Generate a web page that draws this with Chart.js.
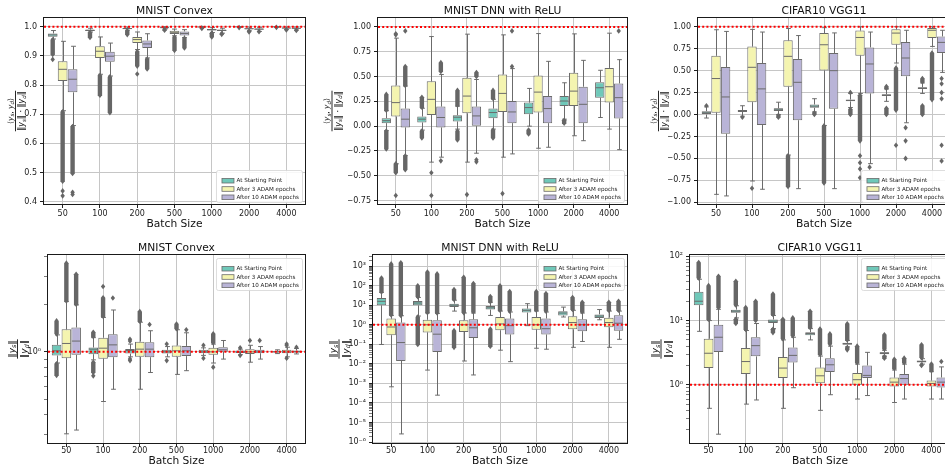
<!DOCTYPE html>
<html><head><meta charset="utf-8">
<script src="https://cdn.jsdelivr.net/npm/chart.js@4/dist/chart.umd.min.js"></script>
<style>
html,body{margin:0;padding:0;width:945px;height:470px;overflow:hidden;background:#fff}
canvas{position:absolute}
</style>
</head><body>
<script>
// ---------------- DATA ----------------
const batchSizes = ['50','100','200','500','1000','2000','4000'];
const seriesLabels = ['At Starting Point','After 3 ADAM epochs','After 10 ADAM epochs'];
// each row: [whiskerLow, q1, median, q3, whiskerHigh]
// outliers: number = single flier, [lo, hi] = dense run of fliers

// MNIST Convex – cosine similarity
const cosConvexStart  = [[0.958,0.966,0.972,0.977,0.987],[0.982,0.985,0.988,0.990,0.995],[0.988,0.991,0.994,0.996,0.999],[0.993,0.995,0.997,0.998,1.0],[0.997,0.998,0.999,0.9995,1.0],[0.998,0.999,0.9995,0.9998,1.0],[0.9985,0.9993,0.9997,0.9999,1.0]];
const cosConvexAdam3  = [[0.712,0.814,0.854,0.882,0.950],[0.837,0.893,0.916,0.933,0.965],[0.922,0.944,0.956,0.965,0.982],[0.969,0.975,0.981,0.986,0.992],[0.980,0.987,0.990,0.992,0.997],[0.986,0.991,0.993,0.995,0.999],[0.991,0.994,0.9955,0.997,0.9995]];
const cosConvexAdam10 = [[0.661,0.775,0.820,0.854,0.933],[0.831,0.880,0.899,0.914,0.944],[0.893,0.927,0.941,0.953,0.976],[0.963,0.970,0.977,0.984,0.990],[0.978,0.985,0.988,0.990,0.995],[0.984,0.990,0.992,0.994,0.998],[0.989,0.993,0.995,0.996,0.999]];
const cosConvexStartOut  = [[[0.905,0.955],0.888],[[0.963,0.980]],[[0.973,0.986]],[[0.988,0.992]],[[0.994,0.996]],[[0.997,0.9975]],[[0.9975,0.998]]];
const cosConvexAdam3Out  = [[[0.47,0.708],0.437,0.42],[[0.765,0.833]],[[0.865,0.915],0.838],[[0.919,0.965]],[[0.965,0.978]],[[0.982,0.985]],[[0.989,0.990]]];
const cosConvexAdam10Out = [[[0.497,0.658],0.432,0.425],[[0.705,0.828]],[[0.855,0.889]],[[0.927,0.960]],[[0.974,0.977]],[[0.983,0.984]],[[0.987,0.988]]];

// MNIST DNN with ReLU – cosine similarity
const cosDnnStart  = [[-0.045,0.03,0.055,0.08,0.155],[-0.04,0.037,0.07,0.097,0.18],[-0.03,0.047,0.09,0.11,0.2],[-0.03,0.08,0.137,0.177,0.27],[0.0,0.12,0.187,0.237,0.38],[0.07,0.203,0.253,0.303,0.437],[0.087,0.287,0.387,0.443,0.563]];
const cosDnnAdam3  = [[-0.38,0.097,0.237,0.41,0.887],[-0.363,0.113,0.27,0.453,0.903],[-0.363,0.13,0.303,0.487,0.927],[-0.313,0.143,0.33,0.52,0.92],[-0.223,0.137,0.343,0.51,0.933],[-0.097,0.203,0.353,0.537,0.93],[-0.03,0.237,0.397,0.587,0.937]];
const cosDnnAdam10 = [[-0.297,-0.013,0.07,0.177,0.403],[-0.313,-0.013,0.087,0.197,0.52],[-0.273,0.0,0.103,0.197,0.47],[-0.28,0.03,0.143,0.253,0.58],[-0.213,0.03,0.177,0.303,0.653],[-0.147,0.03,0.22,0.397,0.663],[-0.237,0.077,0.287,0.43,0.67]];
const cosDnnStartOut  = [[[0.16,0.32],[-0.23,-0.05]],[[0.19,0.29],[-0.12,-0.05]],[[0.21,0.36],[-0.14,-0.05]],[[0.28,0.36],[-0.12,-0.04]],[[-0.08,-0.04]],[[0.03,0.06]],[]];
const cosDnnAdam3Out  = [[0.93,0.92,[-0.47,-0.38],-0.70],[-0.47,-0.70],[-0.69],[-0.68],[],[],[]];
const cosDnnAdam10Out = [[[0.41,0.60],0.96,[-0.44,-0.30]],[[0.55,0.64],-0.35],[[0.50,0.54],-0.34,-0.36],[0.60,0.96],[],[],[0.96]];

// CIFAR10 VGG11 – cosine similarity
const cosCifarStart  = [[-0.04,0.0,0.02,0.038,0.087],[-0.02,0.03,0.04,0.05,0.10],[0.0,0.04,0.06,0.07,0.14],[0.03,0.076,0.095,0.114,0.18],[0.08,0.15,0.16,0.17,0.24],[0.15,0.21,0.22,0.23,0.29],[0.24,0.29,0.30,0.31,0.36]];
const cosCifarAdam3  = [[-0.91,0.02,0.41,0.67,0.966],[-0.758,0.14,0.538,0.776,0.97],[-0.462,0.315,0.663,0.845,0.98],[-0.125,0.503,0.795,0.928,0.99],[0.24,0.67,0.878,0.958,1.0],[0.587,0.795,0.928,0.973,1.0],[0.776,0.872,0.96,0.985,1.0]];
const cosCifarAdam10 = [[-0.928,-0.219,0.2,0.542,0.947],[-0.852,-0.12,0.292,0.587,0.94],[-0.845,-0.065,0.367,0.633,0.90],[-0.845,0.065,0.5,0.70,0.93],[-0.56,0.24,0.576,0.765,0.94],[-0.094,0.435,0.644,0.826,0.96],[0.48,0.70,0.822,0.89,0.96]];
const cosCifarStartOut  = [[0.10],[-0.03],[[-0.03,-0.01]],[[0.0,0.02]],[0.25,[0.0,0.06]],[[0.30,0.32],[0.0,0.07]],[[0.37,0.41],[0.0,0.1]]];
const cosCifarAdam3Out  = [[],[-0.84],[[-0.82,-0.47]],[[-0.78,-0.13]],[[-0.3,0.22],-0.47,-0.55,-0.62,-0.72],[[0.05,0.53],-0.35],[[0.17,0.70]]];
const cosCifarAdam10Out = [[],[],[],[],[-0.6],[-0.15,-0.3,-0.5],[0.41,0.35,0.25,0.18,-0.35,-0.53]];

// MNIST Convex – norm ratio
const ratioConvexStart  = [[0.85,0.948,1.015,1.107,1.28],[0.89,0.966,1.04,1.065,1.23],[0.93,0.975,1.02,1.044,1.12],[0.93,0.975,1.0,1.03,1.08],[0.95,0.98,1.0,1.03,1.06],[0.96,0.985,1.0,1.02,1.04],[0.975,0.99,1.0,1.01,1.03]];
const ratioConvexAdam3  = [[0.303,0.912,1.13,1.39,2.08],[0.485,0.904,1.055,1.23,1.65],[0.58,0.93,1.04,1.16,1.54],[0.72,0.93,1.015,1.096,1.38],[0.85,0.96,1.0,1.06,1.12],[0.86,0.97,1.0,1.04,1.1],[0.93,0.98,1.0,1.03,1.07]];
const ratioConvexAdam10 = [[0.32,0.957,1.17,1.426,1.98],[0.58,0.925,1.107,1.29,1.84],[0.74,0.925,1.04,1.15,1.36],[0.76,0.94,1.015,1.09,1.32],[0.9,1.0,1.03,1.07,1.18],[0.9,0.98,1.0,1.03,1.08],[0.97,0.99,1.0,1.02,1.05]];
const ratioConvexStartOut  = [[[1.30,1.57],[0.71,0.84]],[[1.25,1.33],[0.74,0.86],0.705],[1.2,1.17,0.88,0.90],[1.12,0.88],[1.1,0.91],[1.06,0.95],[]];
const ratioConvexAdam3Out  = [[[2.1,3.64]],[[1.68,2.2],2.59],[[1.56,1.8]],[[1.4,1.5]],[[1.14,1.3],0.80],[1.18],[1.10,1.12,0.91]];
const ratioConvexAdam10Out = [[[2.0,3.1]],[2.19],[1.49],[1.38],[],[1.18],[1.07]];

// MNIST DNN with ReLU – norm ratio
const ratioDnnStart  = [[0.098,9.9,15.8,23.4,45],[2.8,9.9,13,16.3,25],[5,8.1,10,12,18],[3.0,6,7.3,9.1,14],[0.9,4.2,5.5,6.7,12],[2.5,3.0,4.0,4.9,8],[1.8,2.2,2.8,3.4,6]];
const ratioDnnAdam3  = [[6.7e-4,0.29,0.77,2.07,3.0],[0.0048,0.4,1.0,1.83,4.0],[0.014,0.43,1.0,1.7,4.0],[0.05,0.52,1.1,2.5,5.0],[0.063,0.56,1.0,2.5,5.0],[0.07,0.59,1.3,2.7,5.5],[0.07,0.75,1.3,2.3,5.0]];
const ratioDnnAdam10 = [[2.6e-6,0.014,0.123,1.29,2.9],[2.5e-4,0.041,0.33,1.7,3.8],[0.0027,0.21,0.7,1.9,4.0],[0.013,0.32,0.9,2.07,4.5],[0.056,0.32,0.63,2.1,4.5],[0.14,0.47,1.0,1.9,4.0],[0.18,0.5,1.2,3.1,5.0]];
const ratioDnnStartOut  = [[[48,245]],[[27,100],[0.098,2.5]],[[20,63],[0.07,0.5]],[[15,28],[0.08,0.6]],[],[],[]];
const ratioDnnAdam3Out  = [[[3.2,1300]],[[4.2,500]],[[4.2,270]],[[5.5,100]],[[5.5,50]],[[6,25]],[[5.5,14]]];
const ratioDnnAdam10Out = [[[3.0,1500]],[[4.0,400]],[[4.5,130]],[[5,50]],[[5,40]],[[4.5,14]],[[5.5,16]]];

// CIFAR10 VGG11 – norm ratio
const ratioCifarStart  = [[6.8,17.4,20,28,44],[11,13.2,14,14.8,17],[7.5,9.2,9.8,10.4,12],[5.0,5.9,6.3,6.6,7.5],[3.9,4.2,4.37,4.5,4.9],[2.8,3.0,3.13,3.2,3.45],[2.1,2.22,2.31,2.38,2.55]];
const ratioCifarAdam3  = [[0.43,1.82,3.1,5.2,10],[0.5,1.47,2.3,3.74,7],[0.43,1.27,1.82,2.7,5],[0.4,1.06,1.38,1.86,2.8],[0.6,1.0,1.2,1.52,2.1],[0.53,0.94,1.1,1.3,1.7],[0.6,0.94,1.05,1.17,1.6]];
const ratioCifarAdam10 = [[0.17,3.25,5.5,8.6,15],[0.58,2.77,4.07,5.5,9],[0.9,2.23,2.87,3.8,5.5],[0.7,1.58,2.05,2.6,4],[0.68,1.27,1.4,2.0,3.2],[0.6,1.0,1.25,1.47,2.1],[0.6,0.91,1.1,1.3,1.9]];
const ratioCifarStartOut  = [[[46,80]],[[17.5,41],[9,10.5]],[[12.5,26],[6.5,7.3]],[[7.8,14]],[[5,8.9],[3.5,3.8]],[[3.6,6.0],[2.6,2.75]],[[2.65,4.2],[2.0,2.05]]];
const ratioCifarAdam3Out  = [[[10.5,35]],[[7.3,16]],[[5.2,10.5]],[[3,7.4]],[[2.2,4]],[[1.8,2.5]],[[1.65,2.1]]];
const ratioCifarAdam10Out = [[[16,49]],[[10,20]],[[5.8,11]],[[4.3,6.2]],[],[[2.2,2.6]],[2.3]];

// tick labels
const cosConvexTicks = [0.4,0.5,0.6,0.7,0.8,0.9,1.0];
const cosConvexTickLabels = ['0.4','0.5','0.6','0.7','0.8','0.9','1.0'];
const cosDnnTicks = [-0.75,-0.5,-0.25,0,0.25,0.5,0.75,1.0];
const cosDnnTickLabels = ['\u22120.75','\u22120.50','\u22120.25','0.00','0.25','0.50','0.75','1.00'];
const cosCifarTicks = [-1,-0.75,-0.5,-0.25,0,0.25,0.5,0.75,1.0];
const cosCifarTickLabels = ['\u22121.00','\u22120.75','\u22120.50','\u22120.25','0.00','0.25','0.50','0.75','1.00'];
const ratioConvexTicks = [1];
const ratioConvexTickLabels = ['10\u2070'];
const ratioDnnTicks = [1e-6,1e-5,1e-4,1e-3,1e-2,1e-1,1,10,100,1000];
const ratioDnnTickLabels = ['10\u207b\u2076','10\u207b\u2075','10\u207b\u2074','10\u207b\u00b3','10\u207b\u00b2','10\u207b\u00b9','10\u2070','10\u00b9','10\u00b2','10\u00b3'];
const ratioCifarTicks = [1,10,100];
const ratioCifarTickLabels = ['10\u2070','10\u00b9','10\u00b2'];

// ---------------- STYLE ----------------
const COLORS = ['#6fc8b9','#f4f4b0','#b9b4d7'];
const EDGE = '#6b6b6b';
const FLIER = '#666666';
const GRID = '#c6c6c6';
const FONT = '"DejaVu Sans", sans-serif';

const panels = [
  {cx:0,   cy:0,   cw:315, L:44,  R:305, T:18,  B:204, title:'MNIST Convex', lab:'cos', labX:15.5,
   log:false, min:0.392, max:1.03, majors:cosConvexTicks, labels:cosConvexTickLabels,
   series:[cosConvexStart,cosConvexAdam3,cosConvexAdam10], outs:[cosConvexStartOut,cosConvexAdam3Out,cosConvexAdam10Out], legend:'lower', xpad:1, xlabY:20},
  {cx:315, cy:0,   cw:315, L:378, R:627, T:18,  B:204, title:'MNIST DNN with ReLU', lab:'cos', labX:332,
   log:false, min:-0.785, max:1.09, majors:cosDnnTicks, labels:cosDnnTickLabels,
   series:[cosDnnStart,cosDnnAdam3,cosDnnAdam10], outs:[cosDnnStartOut,cosDnnAdam3Out,cosDnnAdam10Out], legend:'lower', xpad:1, xlabY:20},
  {cx:630, cy:0,   cw:330, L:698, R:950, T:18,  B:204, title:'CIFAR10 VGG11', lab:'cos', labX:658.5,
   log:false, min:-1.02, max:1.1, majors:cosCifarTicks, labels:cosCifarTickLabels,
   series:[cosCifarStart,cosCifarAdam3,cosCifarAdam10], outs:[cosCifarStartOut,cosCifarAdam3Out,cosCifarAdam10Out], legend:'lower', xpad:1, xlabY:20},
  {cx:0,   cy:235, cw:315, L:48,  R:305, T:255, B:443, title:'MNIST Convex', lab:'ratio', labX:17.5,
   log:true, min:0.265, max:4.1, majors:ratioConvexTicks, labels:ratioConvexTickLabels,
   series:[ratioConvexStart,ratioConvexAdam3,ratioConvexAdam10], outs:[ratioConvexStartOut,ratioConvexAdam3Out,ratioConvexAdam10Out], legend:'upper', xpad:-1, xlabY:18},
  {cx:315, cy:235, cw:315, L:373, R:627, T:255, B:443, title:'MNIST DNN with ReLU', lab:'ratio', labX:339,
   log:true, min:Math.pow(10,-6.05), max:Math.pow(10,3.57), majors:ratioDnnTicks, labels:ratioDnnTickLabels,
   series:[ratioDnnStart,ratioDnnAdam3,ratioDnnAdam10], outs:[ratioDnnStartOut,ratioDnnAdam3Out,ratioDnnAdam10Out], legend:'upper', xpad:-1, xlabY:18},
  {cx:630, cy:235, cw:330, L:690, R:950, T:255, B:443, title:'CIFAR10 VGG11', lab:'ratio', labX:661,
   log:true, min:0.124, max:105, majors:ratioCifarTicks, labels:ratioCifarTickLabels,
   series:[ratioCifarStart,ratioCifarAdam3,ratioCifarAdam10], outs:[ratioCifarStartOut,ratioCifarAdam3Out,ratioCifarAdam10Out], legend:'upper', xpad:-1, xlabY:18}
];

const YW = 30, XH = 15;

function tickValues(p) {
  if (!p.log) return p.majors.slice();
  const out = [];
  const e0 = Math.floor(Math.log10(p.min)), e1 = Math.ceil(Math.log10(p.max));
  for (let e = e0; e <= e1; e++) {
    for (let k = 1; k < 10; k++) {
      const v = k * Math.pow(10, e);
      if (v >= p.min * 0.9999 && v <= p.max * 1.0001) out.push(v);
    }
  }
  return out;
}
function majorIndex(p, v) {
  for (let j = 0; j < p.majors.length; j++) {
    if (p.log) { if (Math.abs(Math.log10(v) - Math.log10(p.majors[j])) < 1e-6) return j; }
    else if (Math.abs(v - p.majors[j]) < 1e-9) return j;
  }
  return -1;
}

// ---------------- drawing helpers ----------------
function diamond(ctx, x, y, hw, hh) {
  ctx.beginPath(); ctx.moveTo(x, y - hh); ctx.lineTo(x + hw, y); ctx.lineTo(x, y + hh); ctx.lineTo(x - hw, y); ctx.closePath(); ctx.fill();
}
function band(ctx, x, y1, y2, hw, hh) {
  const t = Math.min(y1, y2), b = Math.max(y1, y2);
  ctx.beginPath(); ctx.moveTo(x, t - hh); ctx.lineTo(x + hw, t); ctx.lineTo(x + hw, b); ctx.lineTo(x, b + hh);
  ctx.lineTo(x - hw, b); ctx.lineTo(x - hw, t); ctx.closePath(); ctx.fill();
}
function richWidth(ctx, segs) { let w = 0; for (const s of segs) { ctx.font = s.f; w += ctx.measureText(s.t).width; } return w; }
function drawRich(ctx, segs, x, y) {
  let cx = x - richWidth(ctx, segs) / 2;
  for (const s of segs) { ctx.font = s.f; ctx.fillText(s.t, cx, y + (s.dy || 0)); cx += ctx.measureText(s.t).width; }
}
const fM = px => px + 'px ' + FONT;
const fI = px => 'italic ' + px + 'px ' + FONT;

function drawYLabel(ctx, p, x, y) {
  ctx.save();
  ctx.translate(x, y); ctx.rotate(-Math.PI / 2);
  ctx.fillStyle = '#111'; ctx.strokeStyle = '#111'; ctx.textBaseline = 'alphabetic';
  let num, den, fs, lineW, numY, denY;
  if (p.lab === 'cos') {
    fs = 8; const ss = 5.6;
    num = [{t:'\u27e8', f:fM(7.5)}, {t:'y', f:fI(7.5)}, {t:'s', f:fI(ss), dy:1.5}, {t:', ', f:fM(7.5)}, {t:'y', f:fI(7.5)}, {t:'d', f:fI(ss), dy:1.5}, {t:'\u27e9', f:fM(7.5)}];
    den = [{t:'\u2016', f:fM(fs)}, {t:'y', f:fI(fs)}, {t:'s', f:fI(ss), dy:1.6}, {t:'\u2016 \u00b7 \u2016', f:fM(fs)}, {t:'y', f:fI(fs)}, {t:'d', f:fI(ss), dy:1.6}, {t:'\u2016', f:fM(fs)}];
    numY = -3; denY = 8.5;
  } else {
    fs = 9; const ss = 6.3;
    num = [{t:'\u2016', f:fM(fs)}, {t:'y', f:fI(fs)}, {t:'s', f:fI(ss), dy:1.8}, {t:'\u2016', f:fM(fs)}];
    den = [{t:'\u2016', f:fM(fs)}, {t:'y', f:fI(fs)}, {t:'d', f:fI(ss), dy:1.8}, {t:'\u2016', f:fM(fs)}];
    numY = -3; denY = 9.5;
  }
  lineW = Math.max(richWidth(ctx, num), richWidth(ctx, den)) + 1;
  drawRich(ctx, num, 0, numY);
  drawRich(ctx, den, 0, denY);
  ctx.lineWidth = 0.9; ctx.beginPath(); ctx.moveTo(-lineW / 2, 0); ctx.lineTo(lineW / 2, 0); ctx.stroke();
  ctx.restore();
}

function drawLegend(ctx, area, pos) {
  const font = fM(5.6);
  ctx.save();
  ctx.font = font;
  let tw = 0; for (const s of seriesLabels) tw = Math.max(tw, ctx.measureText(s).width);
  const w = 6 + 12 + 2.5 + tw + 3, h = 32;
  const x = area.right - 3 - w;
  const y = pos === 'lower' ? area.bottom - 2 - h : area.top + 3;
  ctx.fillStyle = 'rgba(255,255,255,0.85)'; ctx.strokeStyle = '#d4d4d4'; ctx.lineWidth = 0.8;
  ctx.beginPath();
  if (ctx.roundRect) ctx.roundRect(x + 0.5, y + 0.5, w, h, 2); else ctx.rect(x + 0.5, y + 0.5, w, h);
  ctx.fill(); ctx.stroke();
  for (let k = 0; k < 3; k++) {
    const cy = y + 10.7 + k * 8.3;
    ctx.fillStyle = COLORS[k]; ctx.strokeStyle = EDGE; ctx.lineWidth = 0.8;
    ctx.fillRect(x + 6, cy - 2.3, 12, 4.6); ctx.strokeRect(x + 6, cy - 2.3, 12, 4.6);
    ctx.fillStyle = '#222'; ctx.font = font; ctx.textBaseline = 'middle'; ctx.textAlign = 'left';
    ctx.fillText(seriesLabels[k], x + 20.5, cy + 0.3);
  }
  ctx.restore();
}

function makePlugin(p) {
  return {
    id: 'boxExtras',
    beforeDatasetsDraw(chart) {
      const ctx = chart.ctx, a = chart.chartArea, ys = chart.scales.y;
      ctx.save(); ctx.beginPath(); ctx.rect(a.left, a.top, a.right - a.left, a.bottom - a.top); ctx.clip();
      ctx.strokeStyle = EDGE; ctx.lineWidth = 1;
      p.series.forEach((stats, k) => {
        const meta = chart.getDatasetMeta(k);
        stats.forEach((s, j) => {
          const el = meta.data[j]; const x = Math.round(el.x) + 0.5, w = el.width;
          const pWL = ys.getPixelForValue(s[0]), pQ1 = ys.getPixelForValue(s[1]), pQ3 = ys.getPixelForValue(s[3]), pWH = ys.getPixelForValue(s[4]);
          ctx.beginPath();
          ctx.moveTo(x, pQ1); ctx.lineTo(x, pWL);
          ctx.moveTo(x, pQ3); ctx.lineTo(x, pWH);
          ctx.moveTo(x - w / 4, pWL); ctx.lineTo(x + w / 4, pWL);
          ctx.moveTo(x - w / 4, pWH); ctx.lineTo(x + w / 4, pWH);
          ctx.stroke();
        });
      });
      ctx.restore();
    },
    afterDatasetsDraw(chart) {
      const ctx = chart.ctx, a = chart.chartArea, ys = chart.scales.y;
      ctx.save(); ctx.beginPath(); ctx.rect(a.left, a.top, a.right - a.left, a.bottom - a.top); ctx.clip();
      p.series.forEach((stats, k) => {
        const meta = chart.getDatasetMeta(k);
        stats.forEach((s, j) => {
          const el = meta.data[j]; const x = el.x, w = el.width;
          const pm = ys.getPixelForValue(s[2]);
          ctx.strokeStyle = EDGE; ctx.lineWidth = 1;
          ctx.beginPath(); ctx.moveTo(x - w / 2 + 0.5, pm); ctx.lineTo(x + w / 2 - 0.5, pm); ctx.stroke();
          ctx.fillStyle = FLIER;
          for (const o of p.outs[k][j]) {
            if (Array.isArray(o)) band(ctx, x, ys.getPixelForValue(o[0]), ys.getPixelForValue(o[1]), 2.2, 2.8);
            else diamond(ctx, x, ys.getPixelForValue(o), 2.2, 2.8);
          }
        });
      });
      // reference line at 1
      const py = ys.getPixelForValue(1);
      ctx.strokeStyle = '#ff0000'; ctx.lineWidth = 2; ctx.setLineDash([2, 2.2]);
      ctx.beginPath(); ctx.moveTo(a.left, py); ctx.lineTo(a.right, py); ctx.stroke();
      ctx.setLineDash([]);
      ctx.restore();
      // frame
      ctx.save(); ctx.strokeStyle = '#1a1a1a'; ctx.lineWidth = 1;
      ctx.strokeRect(Math.round(a.left) - 0.5, Math.round(a.top) - 0.5, Math.round(a.right - a.left) + 1, Math.round(a.bottom - a.top) + 1);
      ctx.restore();
      drawLegend(ctx, a, p.legend);
    },
    afterDraw(chart) {
      const ctx = chart.ctx, a = chart.chartArea;
      const mid = (a.left + a.right) / 2;
      ctx.save();
      ctx.fillStyle = '#111'; ctx.textAlign = 'center'; ctx.textBaseline = 'middle';
      ctx.font = fM(10.7);
      ctx.fillText(p.title, mid, a.top - 6.5);
      ctx.fillText('Batch Size', mid, a.bottom + p.xlabY);
      ctx.restore();
      drawYLabel(ctx, p, p.labX - p.cx, (a.top + a.bottom) / 2);
    }
  };
}

function makeChart(p) {
  const cv = document.createElement('canvas');
  cv.width = p.cw; cv.height = 235;
  cv.style.left = p.cx + 'px'; cv.style.top = p.cy + 'px';
  cv.style.width = p.cw + 'px'; cv.style.height = '235px';
  document.body.appendChild(cv);
  const tv = tickValues(p);
  const isMajor = v => majorIndex(p, v) >= 0;
  const datasets = p.series.map((stats, k) => ({
    label: seriesLabels[k],
    data: stats.map(s => [s[1], s[3]]),
    backgroundColor: COLORS[k], borderColor: EDGE, borderWidth: 1, borderSkipped: false,
    categoryPercentage: 0.8, barPercentage: 0.98
  }));
  new Chart(cv, {
    type: 'bar',
    data: { labels: batchSizes, datasets },
    options: {
      responsive: false, animation: false, events: [], devicePixelRatio: 1,
      layout: { padding: { left: p.L - p.cx - YW, top: p.T - p.cy, right: p.cx + p.cw - p.R, bottom: p.cy + 235 - p.B - XH } },
      plugins: { legend: { display: false }, title: { display: false }, tooltip: { enabled: false } },
      scales: {
        x: {
          type: 'category', offset: true,
          afterFit: s => { s.height = XH; },
          border: { display: false },
          grid: { offset: false, color: GRID, lineWidth: 1, tickColor: '#222', tickLength: 4 },
          ticks: { autoSkip: false, maxRotation: 0, color: '#222', font: { family: FONT, size: 8 }, padding: p.xpad }
        },
        y: {
          type: p.log ? 'logarithmic' : 'linear',
          min: p.min, max: p.max,
          afterBuildTicks: ax => { ax.ticks = tv.map(v => ({ value: v })); },
          afterFit: s => { s.width = YW; },
          border: { display: false },
          grid: {
            color: c => (c.tick && isMajor(c.tick.value)) ? GRID : 'rgba(0,0,0,0)',
            tickColor: '#222',
            tickWidth: c => (c.tick && isMajor(c.tick.value)) ? 1 : 0.6,
            tickLength: 4
          },
          ticks: {
            autoSkip: false, color: '#222', font: { family: FONT, size: 8 }, padding: 3,
            callback: v => { const j = majorIndex(p, v); return j >= 0 ? p.labels[j] : ''; }
          }
        }
      }
    },
    plugins: [makePlugin(p)]
  });
}
panels.forEach(makeChart);
</script>
</body></html>
